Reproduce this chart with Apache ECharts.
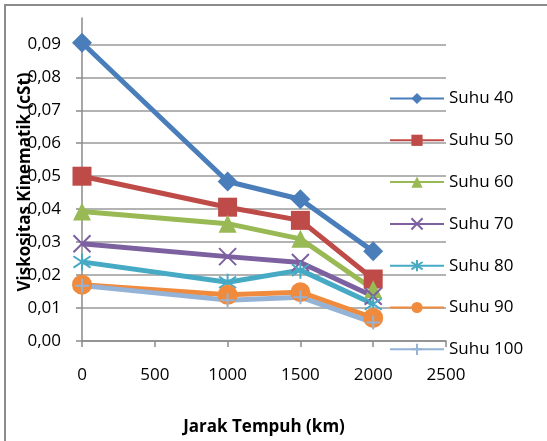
<!DOCTYPE html>
<html>
<head>
<meta charset="utf-8">
<script src="https://cdn.jsdelivr.net/npm/echarts@6/dist/echarts.min.js"></script>
<style>
  html, body { margin: 0; padding: 0; background: #fff; }
  #chart { width: 547px; height: 441px; }
</style>
</head>
<body>
<div id="chart"></div>
<script>
var jarak = [0, 1000, 1500, 2000];
var namaSeri = ['Suhu 40', 'Suhu 50', 'Suhu 60', 'Suhu 70', 'Suhu 80', 'Suhu 90', 'Suhu 100'];
var suhu40 = [0.0905, 0.0484, 0.0430, 0.0272];
var suhu50 = [0.0500, 0.0406, 0.0366, 0.0188];
var suhu60 = [0.0393, 0.0356, 0.0310, 0.0157];
var suhu70 = [0.0295, 0.0256, 0.0238, 0.0136];
var suhu80 = [0.0240, 0.0178, 0.0215, 0.0112];
var suhu90 = [0.0171, 0.0140, 0.0148, 0.0070];
var suhu100 = [0.0168, 0.0124, 0.0133, 0.0056];

var warna = ['#4A7EBB', '#BE4B48', '#98B954', '#7D60A0', '#46AAC5', '#F08A3C', '#95B3D7'];
var simbol = [
    'diamond', 'rect', 'triangle',
    'path://M0,0L10,10M10,0L0,10',
    'path://M0,1L10,9M10,1L0,9M5,-1L5,11',
    'circle',
    'path://M5,0L5,10M0,5L10,5'
];
var ukuran = [20, 19, 18, 17, 17, 20, 14];
var garisSaja = [false, false, false, true, true, false, true];

var dataSemua = [suhu40, suhu50, suhu60, suhu70, suhu80, suhu90, suhu100];

var chart = echarts.init(document.getElementById('chart'));
var font = '"Open Sans", sans-serif';

var series = [];
for (var i = 0; i < namaSeri.length; i++) {
    var pts = [];
    for (var j = 0; j < jarak.length; j++) {
        pts.push([jarak[j], dataSemua[i][j]]);
    }
    series.push({
        name: namaSeri[i],
        type: 'line',
        data: pts,
        symbol: simbol[i],
        symbolSize: ukuran[i],
        showAllSymbol: true,
        lineStyle: { color: warna[i], width: 5 },
        itemStyle: garisSaja[i]
            ? { color: 'transparent', borderColor: warna[i], borderWidth: 2 }
            : { color: warna[i] },
        emphasis: { disabled: true }
    });
}

// last split line (top of axis) stays hidden
var gridColors = [];
for (var k = 0; k < 10; k++) gridColors.push('#9a9a9a');
gridColors.push('transparent');

var option = {
    animation: false,
    grid: { left: 82, right: 101, top: 18, bottom: 97, containLabel: false },
    xAxis: {
        type: 'value',
        min: 0,
        max: 2500,
        interval: 500,
        name: 'Jarak Tempuh (km)',
        nameLocation: 'middle',
        nameGap: 78,
        nameTextStyle: { fontFamily: font, fontSize: 17, fontWeight: 'bold', color: '#000' },
        axisLine: { show: true, lineStyle: { color: '#8a8a8a', width: 1.5 } },
        axisTick: { show: true, inside: false, length: 6, lineStyle: { color: '#8a8a8a', width: 1.5 } },
        axisLabel: {
            fontFamily: font, fontSize: 17, color: '#000', margin: 26,
            formatter: function (v) { return String(v); }
        },
        splitLine: { show: false }
    },
    yAxis: {
        type: 'value',
        min: 0,
        max: 0.098,
        interval: 0.01,
        axisLine: { show: true, lineStyle: { color: '#8a8a8a', width: 1.5 } },
        axisTick: { show: true, length: 6, lineStyle: { color: '#8a8a8a', width: 1.5 } },
        axisLabel: {
            fontFamily: font, fontSize: 17, color: '#000', margin: 21,
            showMaxLabel: false,
            formatter: function (v) { return v.toFixed(2).replace('.', ','); }
        },
        splitLine: { show: true, lineStyle: { color: gridColors, width: 1.5 } }
    },
    legend: {
        data: namaSeri,
        orient: 'vertical',
        left: 384,
        top: 85,
        itemWidth: 54,
        itemHeight: 14,
        itemGap: 24.8,
        textStyle: { fontFamily: font, fontSize: 17, color: '#000' }
    },
    graphic: [
        {
            type: 'rect',
            shape: { x: 5, y: 5, width: 560, height: 460 },
            style: { fill: 'none', stroke: '#8c8c8c', lineWidth: 2 },
            silent: true
        },
        {
            type: 'text',
            x: 25,
            y: 182,
            rotation: Math.PI / 2,
            style: {
                text: 'Viskositas Kinematik (cSt)',
                font: 'bold 17px ' + font,
                fill: '#000',
                align: 'center',
                verticalAlign: 'middle'
            },
            silent: true
        }
    ],
    series: series
};

chart.setOption(option);
window.onresize = chart.resize;
</script>
</body>
</html>
